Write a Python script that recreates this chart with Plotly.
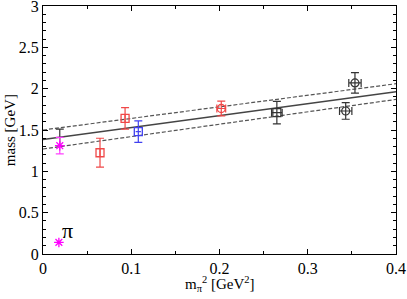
import plotly.graph_objects as go

# red points
red_x = [0.0646, 0.093, 0.202]
red_y = [1.225, 1.64, 1.76]
red_ey = [0.175, 0.13, 0.09]
red_ex = [0.0, 0.0, 0.005]
red_sym = ["square-open", "square-open", "circle-open"]

# blue point
blue_x = [0.108]
blue_y = [1.48]
blue_ey = [0.13]
blue_ex = [0.003]

# black points
blk_x = [0.265, 0.343, 0.3535]
blk_y = [1.71, 1.73, 2.07]
blk_ey = [0.137, 0.10, 0.125]
blk_ex = [0.006, 0.007, 0.007]
blk_sym = ["square-open", "circle-open", "circle-open"]

# extrapolated physical-point value
phys_x = [0.019]
phys_y = [1.41]
phys_ey = [0.10]

# magenta point
mag_x = [0.019]
mag_y = [1.31]
mag_ey = [0.10]

# pion
pion_x = [0.018]
pion_y = [0.14]

# fit lines
fit_x = [0.0, 0.4]
fit_y = [1.385, 1.963]
fit_up = [1.50, 2.06]
fit_lo = [1.27, 1.87]

SERIF = "Liberation Serif, Times New Roman, serif"

fig = go.Figure()
fig.add_trace(go.Scatter(x=fit_x, y=fit_y, mode="lines", line=dict(color="#444", width=1.3)))
fig.add_trace(go.Scatter(x=fit_x, y=fit_up, mode="lines", line=dict(color="#555", width=1.2, dash="4px,2px")))
fig.add_trace(go.Scatter(x=fit_x, y=fit_lo, mode="lines", line=dict(color="#555", width=1.2, dash="4px,2px")))

fig.add_trace(go.Scatter(x=phys_x, y=phys_y, mode="markers", marker=dict(size=1, color="#333"),
                         error_y=dict(array=phys_ey, color="#333", thickness=1.2, width=4)))
fig.add_trace(go.Scatter(x=mag_x, y=mag_y, mode="markers",
                         marker=dict(symbol="asterisk-open", size=8, color="#ff00ff", line=dict(color="#ff00ff", width=1.3)),
                         error_y=dict(array=mag_ey, color="#ff40ff", thickness=1.2, width=4)))
fig.add_trace(go.Scatter(x=red_x, y=red_y, mode="markers",
                         marker=dict(symbol=red_sym, size=8, color="#f04848", line=dict(color="#f04848", width=1.3)),
                         error_y=dict(array=red_ey, color="#f04848", thickness=1.2, width=4),
                         error_x=dict(array=red_ex, color="#f04848", thickness=1.2, width=4)))
fig.add_trace(go.Scatter(x=blue_x, y=blue_y, mode="markers",
                         marker=dict(symbol="square-open", size=8, color="#4040f0", line=dict(color="#4040f0", width=1.3)),
                         error_y=dict(array=blue_ey, color="#4040f0", thickness=1.2, width=4),
                         error_x=dict(array=blue_ex, color="#4040f0", thickness=1.2, width=0)))
fig.add_trace(go.Scatter(x=blk_x, y=blk_y, mode="markers",
                         marker=dict(symbol=blk_sym, size=8, color="#333", line=dict(color="#333", width=1.2)),
                         error_y=dict(array=blk_ey, color="#333", thickness=1.2, width=4),
                         error_x=dict(array=blk_ex, color="#333", thickness=1.2, width=4)))
fig.add_trace(go.Scatter(x=pion_x, y=pion_y, mode="markers",
                         marker=dict(symbol="asterisk-open", size=8, color="#ff00ff", line=dict(color="#ff00ff", width=1.3))))

fig.add_annotation(x=0.028, y=0.28, text="π", showarrow=False, font=dict(family=SERIF, size=22, color="black"))

fig.add_annotation(x=0.5, y=-0.12, xref="paper", yref="paper", yanchor="middle", showarrow=False,
                   text="m<sub>π</sub><sup>2</sup> [GeV<sup>2</sup>]", font=dict(family=SERIF, size=15, color="black"))
fig.add_annotation(x=-0.093, y=0.5, xref="paper", yref="paper", xanchor="center", textangle=-90, showarrow=False,
                   text="mass [GeV]", font=dict(family=SERIF, size=15, color="black"))

axis_common = dict(showgrid=False, zeroline=False, showline=True, linecolor="black", linewidth=1,
                   mirror="allticks", ticks="inside", ticklen=5, tickcolor="black", automargin=False,
                   ticklabeloverflow="allow",
                   tickfont=dict(family=SERIF, size=16, color="black"))
fig.update_xaxes(range=[0, 0.4], tickvals=[0, 0.1, 0.2, 0.3, 0.4], ticktext=["0", "0.1", "0.2", "0.3", "0.4"],
                 minor=dict(dtick=0.05, ticks="inside", ticklen=3, tickcolor="black"), **axis_common)
fig.update_yaxes(range=[0, 3], tickvals=[0, 0.5, 1, 1.5, 2, 2.5, 3], ticktext=["0", "0.5", "1", "1.5", "2", "2.5", "3"],
                 minor=dict(dtick=0.1, ticks="inside", ticklen=3, tickcolor="black"), **axis_common)
fig.update_layout(width=407, height=299, margin=dict(l=43, r=11, t=6, b=45),
                  plot_bgcolor="white", paper_bgcolor="white", showlegend=False)
fig.write_html("out.html", config={"displayModeBar": False},
               post_script="document.body.style.margin='0';document.body.style.overflow='hidden';")
